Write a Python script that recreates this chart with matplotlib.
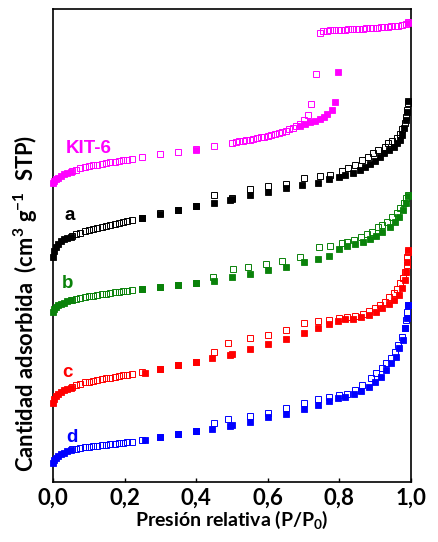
import matplotlib
matplotlib.use("Agg")
import matplotlib.pyplot as plt

FONT = "Lato"
plt.rcParams.update({
    "font.family": FONT,
    "font.weight": "bold",
    "mathtext.fontset": "custom",
    "mathtext.rm": f"{FONT}:bold",
    "mathtext.it": f"{FONT}:bold",
    "mathtext.bf": f"{FONT}:bold",
})

# relative pressure grid of the dense low-pressure desorption branch
DES_LOW_X = [0.22, 0.208, 0.196, 0.184, 0.172, 0.16, 0.148, 0.136, 0.124, 0.112,
             0.10, 0.088, 0.076, 0.064, 0.052]
ADS_LOW_X = [0.0, 0.004, 0.009, 0.015, 0.022, 0.03, 0.04, 0.05]

# KIT-6
KIT_ADS_X = ADS_LOW_X + [0.40, 0.69, 0.704, 0.718, 0.732, 0.746,
                         0.757, 0.766, 0.778, 0.788, 0.797, 0.992]
KIT_ADS_Y = [299, 301, 303, 304.5, 306.5, 308, 309.5, 310.5, 332.5,
             356, 358, 359.7, 361.3, 362.7, 364.7, 367.7, 372, 380, 410, 459]
KIT_DES_X = [0.992, 0.985, 0.975, 0.965, 0.955, 0.945, 0.935, 0.925, 0.915, 0.905,
             0.895, 0.885, 0.875, 0.865, 0.855, 0.845, 0.835, 0.825, 0.815, 0.805,
             0.795, 0.785, 0.775, 0.765, 0.755, 0.745, 0.734, 0.72, 0.713, 0.70,
             0.69, 0.68, 0.67, 0.66, 0.65, 0.64, 0.63, 0.62, 0.61, 0.60, 0.59, 0.58,
             0.57, 0.56, 0.55, 0.54, 0.53, 0.52, 0.51, 0.50, 0.45, 0.40, 0.35, 0.30,
             0.25] + DES_LOW_X
KIT_DES_Y = [460, 458, 457, 456.5, 456, 455.7, 455.4, 455, 454.8, 454.5, 454.2, 454,
             453.8, 453.5, 453.3, 453, 452.8, 452.6, 452.4, 452.2, 452, 451.8, 451.6,
             451.4, 451, 449, 408, 378, 367, 362, 358.5, 356.5, 354.5, 353, 351.5,
             350.5, 349.5, 348.5, 347.5, 346.5, 345.5, 344.7, 344, 343.2, 342.5,
             341.8, 341.2, 340.7, 340, 339.5, 336, 333, 330.3, 328, 325.3,
             323, 322.5, 322, 321, 320.5, 320, 319, 318.5, 317.5, 317, 316, 315,
             314, 312.5, 311]

# sample a (black)
A_ADS_X = ADS_LOW_X + [0.25, 0.30, 0.35, 0.40, 0.45, 0.495, 0.50, 0.55, 0.60, 0.65,
                       0.695, 0.74, 0.77, 0.80, 0.817, 0.837, 0.857, 0.872, 0.885,
                       0.899, 0.913, 0.925, 0.939, 0.953, 0.962, 0.969, 0.976, 0.98,
                       0.985, 0.988, 0.992]
A_ADS_Y = [225, 231, 235, 238.5, 241, 243, 244.5, 245.5, 264, 268.5, 272, 276, 279,
           282.5, 283, 287, 290, 294, 297, 299, 303, 305.3, 307, 309.3, 312, 315.3,
           318, 321.3, 325.3, 328.7, 332, 335.3, 338.7, 342, 347, 354, 362, 370.3,
           381.3]
A_DES_X = [0.992, 0.988, 0.985, 0.982, 0.976, 0.969, 0.96, 0.948, 0.937, 0.927,
           0.909, 0.895, 0.881, 0.864, 0.844, 0.825, 0.806, 0.774, 0.745, 0.70, 0.65,
           0.60, 0.55, 0.50, 0.45, 0.40, 0.35, 0.30, 0.25] + DES_LOW_X
A_DES_Y = [378.7, 372, 365.3, 358.7, 352.7, 347.7, 343.7, 341, 338.7, 335.3, 332,
           329.3, 325.3, 322, 317, 313.7, 311.3, 307, 306, 303.7, 298, 296, 292.7,
           284, 287, 276, 272.5, 269, 264.5,
           262, 261, 260, 259, 258, 257, 256, 255, 254, 253, 252, 251, 249.5, 248,
           246]

# sample b (green)
B_ADS_X = ADS_LOW_X + [0.25, 0.30, 0.35, 0.40, 0.45, 0.50, 0.55, 0.60, 0.65, 0.70,
                       0.74, 0.77, 0.80, 0.82, 0.843, 0.866, 0.885, 0.903, 0.92,
                       0.94, 0.955, 0.967, 0.978, 0.985, 0.992]
B_ADS_Y = [170, 173, 175, 177, 178.5, 179.5, 181, 182, 193, 195, 197, 199, 201, 205,
           208, 212, 215, 220, 223, 226, 232.7, 236, 238, 240.3, 243, 246, 250.3,
           255.3, 260.3, 265.3, 272, 278.7, 286]
B_DES_X = [0.992, 0.987, 0.98, 0.97, 0.962, 0.948, 0.934, 0.92, 0.907, 0.89, 0.877,
           0.861, 0.84, 0.822, 0.806, 0.774, 0.742, 0.69, 0.64, 0.596, 0.545, 0.503,
           0.447, 0.40, 0.35, 0.30, 0.25] + DES_LOW_X
B_DES_Y = [287, 283.7, 278.7, 273.7, 268.7, 264.7, 260.3, 257, 254.7, 250.3, 248,
           245.3, 242, 240.3, 239.3, 236, 234.7, 224.7, 221.3, 218, 215.3, 212.7,
           205.3, 199, 197, 195, 193,
           192, 191.5, 191, 190.3, 189.7, 189, 188.4, 187.8, 187, 186.3, 185.7,
           185, 184.2, 183.4, 182.5]

# sample c (red)
C_ADS_X = ADS_LOW_X + [0.256, 0.30, 0.35, 0.40, 0.445, 0.495, 0.50, 0.55, 0.60,
                       0.65, 0.70, 0.74, 0.77, 0.797, 0.816, 0.839, 0.86, 0.884,
                       0.902, 0.92, 0.939, 0.953, 0.967, 0.976, 0.983, 0.987, 0.99,
                       0.992]
C_ADS_Y = [79, 83, 86, 88.5, 90.5, 92, 93.5, 94.5, 109.5, 113, 117, 120, 124, 127.5,
           128, 133, 138, 143, 149, 154, 158, 161.3, 162.7, 163.3, 164.7, 167, 170.3,
           173.7, 178, 182, 187, 193.7, 202, 210.3, 220.3, 232]
C_DES_X = [0.992, 0.99, 0.989, 0.983, 0.978, 0.97, 0.962, 0.952, 0.939, 0.927,
           0.913, 0.899, 0.883, 0.866, 0.843, 0.822, 0.80, 0.77, 0.74, 0.70, 0.65,
           0.60, 0.55, 0.49, 0.45, 0.40, 0.35, 0.30, 0.25] + DES_LOW_X
C_DES_Y = [230.3, 225.3, 217, 210.3, 203.7, 198.7, 192.7, 188.7, 184.7, 180.3, 177,
           173.7, 171, 168, 166, 164.7, 163.7, 162, 161, 159, 152, 147, 144, 139,
           130, 120, 117, 113, 110,
           108, 107.3, 106.6, 105.9, 105.2, 104.5, 103.8, 103, 102.2, 101.4, 100.5,
           99.6, 98.5, 97.2, 95.5]

# sample d (blue)
D_ADS_X = ADS_LOW_X + [0.256, 0.30, 0.35, 0.40, 0.445, 0.495, 0.50, 0.55, 0.60,
                       0.65, 0.70, 0.74, 0.77, 0.797, 0.816, 0.84, 0.86, 0.882, 0.90,
                       0.917, 0.93, 0.944, 0.957, 0.967, 0.977, 0.984, 0.988, 0.992]
D_ADS_Y = [19, 22, 24.5, 26.5, 28, 29.5, 31, 32, 42, 45, 48, 51, 53, 56.5, 57, 60, 65,
           68, 73, 77, 81, 83.7, 85.3, 88, 91.3, 95.3, 100.3, 105.3, 112, 118.7,
           125.3, 133.7, 142, 153.7, 163.7, 177]
D_DES_X = [0.992, 0.99, 0.987, 0.982, 0.975, 0.965, 0.955, 0.944, 0.93, 0.918, 0.901,
           0.887, 0.864, 0.844, 0.822, 0.80, 0.77, 0.74, 0.70, 0.65, 0.60, 0.55, 0.49,
           0.45, 0.40, 0.35, 0.30, 0.25] + DES_LOW_X
D_DES_Y = [177, 170.3, 162, 153.7, 145.3, 137, 130.3, 123.7, 118.7, 113.7, 108.7,
           104.3, 97, 92, 88, 87, 85.3, 83, 79, 74, 69, 66, 63, 59, 51, 48, 45, 42,
           40, 39.6, 39.2, 38.8, 38.4, 38, 37.5, 37, 36.5, 36, 35.4, 34.8, 34.2,
           33.5, 32.7]

SERIES = [
    ("KIT-6", "#ff00ff", KIT_ADS_X, KIT_ADS_Y, KIT_DES_X, KIT_DES_Y, 0.036, 329),
    ("a", "#000000", A_ADS_X, A_ADS_Y, A_DES_X, A_DES_Y, 0.032, 262),
    ("b", "#0a820a", B_ADS_X, B_ADS_Y, B_DES_X, B_DES_Y, 0.026, 194),
    ("c", "#ff0000", C_ADS_X, C_ADS_Y, C_DES_X, C_DES_Y, 0.026, 105),
    ("d", "#0000ff", D_ADS_X, D_ADS_Y, D_DES_X, D_DES_Y, 0.036, 40),
]

fig = plt.figure(figsize=(4.39, 5.42), dpi=100)
ax = fig.add_axes([53 / 439, 60 / 542, 358 / 439, 473 / 542])

ms = 4.4
for name, col, ax_x, ax_y, dx, dy, lx, ly in SERIES:
    ax.plot(ax_x, ax_y, ls="none", marker="s", ms=ms, mfc=col, mec=col, mew=0.6,
            clip_on=False, zorder=3)
    ax.plot(dx, dy, ls="none", marker="s", ms=ms, mfc="none", mec=col, mew=0.7,
            clip_on=False, zorder=4)
    ax.text(lx, ly, name, color=col, fontsize=13.5, fontweight="bold",
            family="Liberation Sans", ha="left", va="baseline")

ax.set_xlim(0, 1.0)
ax.set_ylim(0, 473)
ax.set_xticks([0.0, 0.2, 0.4, 0.6, 0.8, 1.0])
ax.set_xticklabels(["0,0", "0,2", "0,4", "0,6", "0,8", "1,0"])
ax.set_yticks([])
ax.tick_params(axis="x", direction="in", length=3, width=1, labelsize=16, pad=4)
for s in ax.spines.values():
    s.set_linewidth(1.2)
ax.set_xlabel("Presión relativa (P/P$_{0}$)", fontsize=14, fontweight="bold",
              labelpad=0)
fig.text(26 / 439, 1 - 303 / 542,
         "Cantidad adsorbida  (cm$^{3}$ g$^{-1}$  STP)",
         rotation=90, ha="center", va="center", fontsize=15.8, fontweight="bold")

fig.savefig("out.png", dpi=100)
